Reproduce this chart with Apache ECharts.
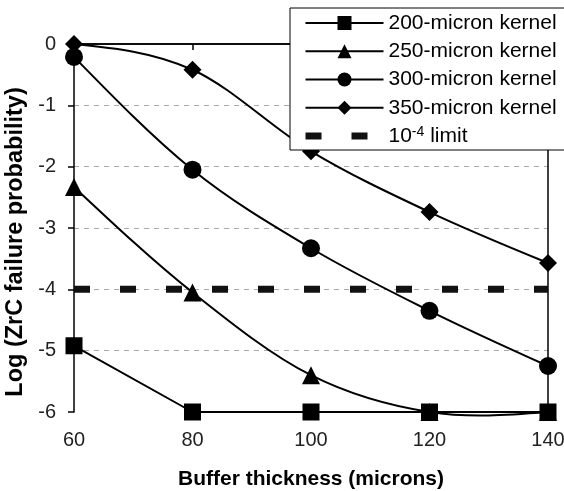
<!DOCTYPE html>
<html>
<head>
<meta charset="utf-8">
<script src="https://cdn.jsdelivr.net/npm/echarts@6/dist/echarts.min.js"></script>
<style>html,body{margin:0;padding:0;background:#fff;}#c{width:564px;height:491px;}</style>
</head>
<body>
<div id="c"></div>
<script>
const xValues = [60, 80, 100, 120, 140];
const k200 = [-4.92, -6, -6, -6, -6];
const k250 = [-2.33, -4.05, -5.4, -6, -6];
const k300 = [-0.21, -2.05, -3.33, -4.35, -5.25];
const k350 = [0, -0.42, -1.75, -2.74, -3.57];
const limitValue = -4;
const seriesNames = ['200-micron kernel', '250-micron kernel', '300-micron kernel', '350-micron kernel', 'limit'];
const xName = 'Buffer thickness (microns)';
const yName = 'Log (ZrC failure probability)';

const pairs = arr => xValues.map((x, i) => [x, arr[i]]);
const font = 'Liberation Sans, Arial, sans-serif';

// Smooth (Catmull-Rom style) curve through the pixel positions of the data points
function curvePath(pts) {
  const n = pts.length;
  let d = 'M' + pts[0][0] + ' ' + pts[0][1];
  for (let i = 0; i < n - 1; i++) {
    const p0 = pts[i], p1 = pts[i + 1];
    let c1 = null, c2 = null;
    if (i > 0) c1 = [p0[0] + (p1[0] - pts[i - 1][0]) / 6, p0[1] + (p1[1] - pts[i - 1][1]) / 6];
    if (i + 2 < n) c2 = [p1[0] - (pts[i + 2][0] - p0[0]) / 6, p1[1] - (pts[i + 2][1] - p0[1]) / 6];
    if (!c1 && !c2) { c1 = p0; c2 = p1; }
    if (!c1) c1 = [p0[0] + (c2[0] - p0[0]) / 2, p0[1] + (c2[1] - p0[1]) / 2];
    if (!c2) c2 = [p1[0] + (c1[0] - p1[0]) / 2, p1[1] + (c1[1] - p1[1]) / 2];
    d += ' C' + c1[0] + ' ' + c1[1] + ' ' + c2[0] + ' ' + c2[1] + ' ' + p1[0] + ' ' + p1[1];
  }
  return d;
}

function curveSeries(values) {
  return {
    type: 'custom', coordinateSystem: 'cartesian2d', data: pairs(values),
    silent: true, z: 2, clip: false,
    renderItem: function (params, api) {
      if (params.dataIndex !== 0) return null;
      const pts = values.map((v, i) => api.coord([xValues[i], v]));
      return {type: 'path', shape: {pathData: curvePath(pts)},
        style: {stroke: '#000', lineWidth: 2, fill: null}};
    }
  };
}

function markerSeries(name, data, symbol, size, showLine) {
  return {
    name: name, type: 'line', data: pairs(data),
    symbol: symbol, symbolSize: size,
    itemStyle: {color: '#000'},
    lineStyle: showLine ? {color: '#000', width: 2} : {color: '#000', width: 0, opacity: 0},
    z: 3
  };
}

const legendLine = {color: '#000', width: 2, opacity: 1, type: 'solid'};

const chart = echarts.init(document.getElementById('c'), null, {renderer: 'canvas'});
chart.setOption({
  animation: false,
  backgroundColor: '#fff',
  textStyle: {fontFamily: font},
  grid: {left: 74, right: 16, top: 44, bottom: 79, outerBoundsMode: 'none', containLabel: false},
  legend: {
    orient: 'vertical', left: 290, top: 8,
    padding: [4.5, 12, 3.5, 12],
    backgroundColor: '#fff', borderColor: '#000', borderWidth: 1,
    itemWidth: 78, itemHeight: 17.5, itemGap: 7.25,
    textStyle: {fontFamily: font, fontSize: 21, color: '#000', lineHeight: 21,
      rich: {sup: {fontSize: 14, verticalAlign: 'top', lineHeight: 14, fontFamily: font, color: '#000'}}},
    formatter: n => n === 'limit' ? '10{sup|-4} limit' : n,
    data: [
      {name: seriesNames[0], lineStyle: legendLine},
      {name: seriesNames[1], lineStyle: legendLine},
      {name: seriesNames[2], lineStyle: legendLine},
      {name: seriesNames[3], lineStyle: legendLine},
      {name: seriesNames[4], itemStyle: {opacity: 0},
        lineStyle: {color: '#111', width: 7, opacity: 1, type: [16, 30], cap: 'butt'}}
    ],
    z: 10
  },
  xAxis: [{
    type: 'value', min: 60, max: 140, interval: 20,
    name: xName, nameLocation: 'middle', nameGap: 56.5,
    nameTextStyle: {fontFamily: font, fontSize: 21, fontWeight: 'bold', color: '#000'},
    axisLine: {lineStyle: {color: '#000', width: 1.5}},
    axisTick: {show: true, length: 6, lineStyle: {color: '#000', width: 1.5}},
    axisLabel: {fontFamily: font, fontSize: 20, color: '#222', margin: 18},
    splitLine: {show: false}
  }, {
    type: 'value', min: 60, max: 140, position: 'top',
    axisLine: {show: true, onZero: false, lineStyle: {color: '#000', width: 1.5}},
    axisTick: {show: false}, axisLabel: {show: false}, splitLine: {show: false}
  }],
  yAxis: [{
    type: 'value', min: -6, max: 0, interval: 1,
    name: yName, nameLocation: 'middle', nameGap: 46, nameRotate: 90,
    nameTextStyle: {fontFamily: font, fontSize: 23.5, fontWeight: 'bold', color: '#000', padding: [0, 28, 0, 0]},
    axisLine: {show: true, onZero: false, lineStyle: {color: '#000', width: 1.5}},
    axisTick: {show: true, length: 6, lineStyle: {color: '#000', width: 1.5}},
    axisLabel: {fontFamily: font, fontSize: 20, color: '#222', margin: 18},
    splitLine: {show: true, showMinLine: false, showMaxLine: false,
      lineStyle: {color: '#aaa', width: 1, type: [5, 5]}}
  }, {
    type: 'value', min: -6, max: 0, position: 'right',
    axisLine: {show: true, onZero: false, lineStyle: {color: '#000', width: 1.5}},
    axisTick: {show: false}, axisLabel: {show: false}, splitLine: {show: false}
  }],
  series: [
    markerSeries(seriesNames[0], k200, 'rect', 17, true),
    markerSeries(seriesNames[1], k250, 'triangle', 18, false),
    markerSeries(seriesNames[2], k300, 'circle', 18, false),
    markerSeries(seriesNames[3], k350, 'diamond', 18, false),
    curveSeries(k250),
    curveSeries(k300),
    curveSeries(k350),
    {
      name: seriesNames[4], type: 'line', data: xValues.map(x => [x, limitValue]),
      symbol: 'none', itemStyle: {color: '#111'},
      lineStyle: {color: '#111', width: 7, type: [16, 30], cap: 'butt'},
      z: 1
    }
  ]
});
</script>
</body>
</html>
